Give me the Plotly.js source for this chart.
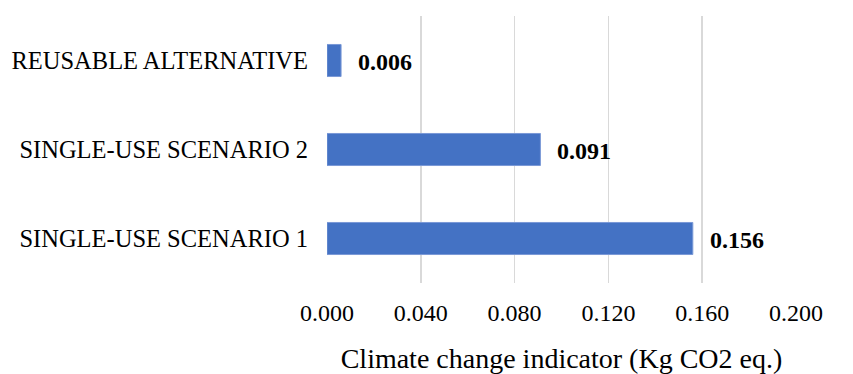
<!DOCTYPE html>
<html>
<head>
<meta charset="utf-8">
<script src="https://cdn.plot.ly/plotly-3.0.1.min.js"></script>
<style>
  html, body { margin: 0; padding: 0; background: #fff; }
  #chart { width: 853px; height: 374px; }
</style>
</head>
<body>
<div id="chart"></div>
<script>
// Climate change indicator per alternative, top to bottom
const categories = ['REUSABLE ALTERNATIVE', 'SINGLE-USE SCENARIO 2', 'SINGLE-USE SCENARIO 1'];
const values = [0.006, 0.091, 0.156];
const tickValues = [0, 0.04, 0.08, 0.12, 0.16, 0.2];
const tickLabels = ['0.000', '0.040', '0.080', '0.120', '0.160', '0.200'];
const axisTitle = 'Climate change indicator (Kg CO2 eq.)';

const serif = 'Liberation Serif, Times New Roman, serif';

const trace = {
  type: 'bar',
  orientation: 'h',
  x: values,
  y: categories,
  marker: { color: '#4472C4', line: { color: '#7a99d6', width: 1 } },
  hoverinfo: 'x+y'
};

// bold value labels beside each bar end
const valueLabels = values.map((v, i) => ({
  x: v,
  y: categories[i],
  xref: 'x',
  yref: 'y',
  text: '<b>' + v.toFixed(3) + '</b>',
  showarrow: false,
  xanchor: 'left',
  yanchor: 'middle',
  xshift: 15,
  yshift: -1,
  font: { family: serif, size: 24, color: '#000' }
}));

const layout = {
  width: 853,
  height: 374,
  margin: { l: 327, r: 57, t: 16, b: 91 },
  paper_bgcolor: '#fff',
  plot_bgcolor: '#fff',
  showlegend: false,
  bargap: 0.64,
  font: { family: serif, color: '#000' },
  xaxis: {
    range: [0, 0.2],
    tickvals: tickValues,
    ticktext: tickLabels,
    tickfont: { family: serif, size: 24, color: '#000' },
    showgrid: true,
    gridcolor: '#d9d9d9',
    gridwidth: 1.5,
    zeroline: false,
    showline: false,
    ticks: '',
    ticklabelstandoff: 13,
    fixedrange: true,
    title: {
      text: axisTitle,
      font: { family: serif, size: 28, color: '#000' },
      standoff: 30
    }
  },
  yaxis: {
    autorange: 'reversed',
    tickfont: { family: serif, size: 24.5, color: '#000' },
    showgrid: false,
    zeroline: false,
    showline: false,
    ticks: '',
    ticklabelstandoff: 18,
    fixedrange: true
  },
  annotations: valueLabels
};

Plotly.newPlot('chart', [trace], layout, { displayModeBar: false, staticPlot: true });
</script>
</body>
</html>
